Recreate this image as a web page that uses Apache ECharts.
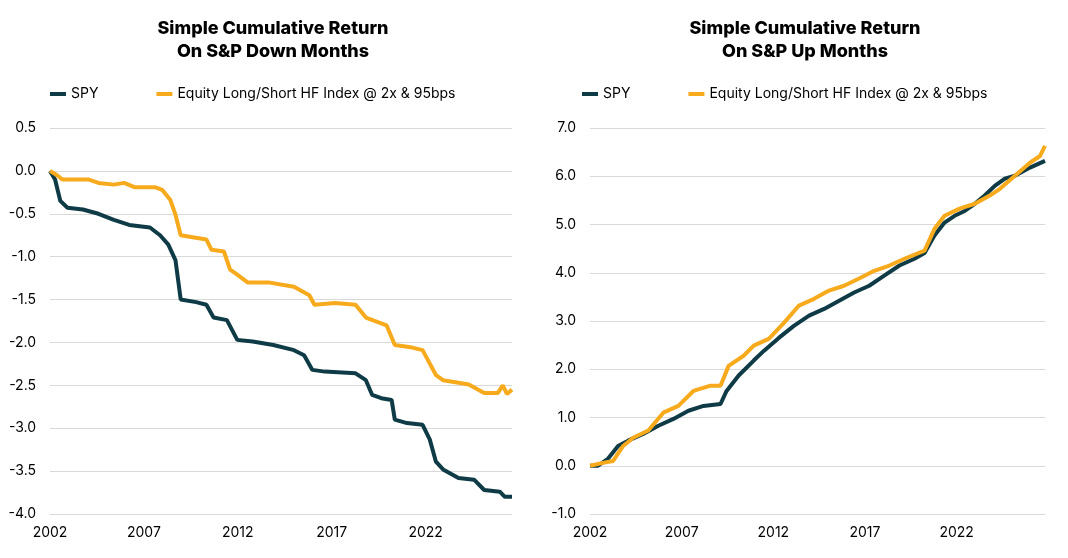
<!DOCTYPE html><html><head><meta charset="utf-8"><script src="https://cdn.jsdelivr.net/npm/echarts@6/dist/echarts.min.js"></script>
<style>html,body{margin:0;background:#fff}#c{width:1068px;height:558px}</style></head><body><div id="c"></div><script>
const downSpyX=[2002,2002.27,2002.55,2002.93,2003.75,2004.58,2005.4,2006.22,2007.32,2007.86,2008.3,2008.68,2008.96,2009.78,2010.33,2010.71,2011.42,2011.97,2012.79,2013.89,2014.99,2015.53,2015.97,2016.63,2018.27,2018.82,2019.15,2019.64,2020.19,2020.36,2021.01,2021.84,2022.22,2022.55,2022.93,2023.75,2024.58,2025.12,2025.95,2026.22,2026.6];
const downSpyY=[0,-0.1,-0.35,-0.43,-0.45,-0.5,-0.57,-0.63,-0.66,-0.75,-0.86,-1.04,-1.5,-1.53,-1.56,-1.71,-1.74,-1.97,-1.99,-2.03,-2.09,-2.15,-2.32,-2.34,-2.36,-2.44,-2.61,-2.65,-2.67,-2.9,-2.94,-2.96,-3.13,-3.39,-3.48,-3.58,-3.6,-3.72,-3.74,-3.8,-3.8];
const downHfX=[2002,2002.38,2002.66,2004.03,2004.58,2005.4,2005.95,2006.49,2007.59,2007.97,2008.41,2008.68,2008.96,2009.51,2010.33,2010.6,2011.26,2011.59,2011.97,2012.52,2013.62,2014.99,2015.81,2016.08,2017.18,2018.27,2018.82,2019.92,2020.36,2021.29,2021.84,2022.11,2022.55,2022.93,2023.75,2024.3,2025.12,2025.84,2026.11,2026.33,2026.6];
const downHfY=[0,-0.05,-0.1,-0.1,-0.14,-0.16,-0.14,-0.19,-0.19,-0.22,-0.34,-0.51,-0.75,-0.77,-0.8,-0.92,-0.94,-1.15,-1.21,-1.3,-1.3,-1.35,-1.45,-1.56,-1.54,-1.56,-1.71,-1.8,-2.03,-2.06,-2.09,-2.2,-2.38,-2.44,-2.47,-2.49,-2.59,-2.59,-2.5,-2.6,-2.55];
const upSpyX=[2002,2002.44,2002.99,2003.53,2004.08,2004.9,2005.73,2006.55,2007.37,2008.19,2009.12,2009.45,2010.11,2010.93,2011.48,2012.3,2013.12,2013.95,2014.77,2015.59,2016.41,2017.23,2018.05,2018.88,2019.7,2020.25,2020.79,2021.34,2021.89,2022.44,2022.99,2023.53,2024.08,2024.63,2025.18,2026.0,2026.82];
const upSpyY=[0,0,0.15,0.41,0.52,0.66,0.83,0.97,1.14,1.24,1.28,1.55,1.87,2.18,2.38,2.65,2.9,3.11,3.25,3.42,3.59,3.73,3.94,4.15,4.29,4.41,4.77,5.04,5.18,5.28,5.43,5.6,5.8,5.95,6.01,6.18,6.32];
const upHfX=[2002,2002.71,2003.26,2003.81,2004.36,2005.18,2006.0,2006.82,2007.64,2008.58,2009.12,2009.56,2010.38,2010.93,2011.75,2012.58,2013.4,2014.22,2015.04,2015.86,2016.68,2017.51,2018.33,2019.15,2020.25,2020.79,2021.34,2022.16,2022.99,2023.81,2024.36,2025.18,2026.0,2026.55,2026.82];
const upHfY=[0,0.06,0.1,0.41,0.58,0.73,1.1,1.24,1.55,1.66,1.66,2.07,2.28,2.49,2.63,2.96,3.32,3.46,3.63,3.73,3.88,4.04,4.15,4.29,4.46,4.91,5.18,5.33,5.43,5.6,5.74,6.01,6.28,6.42,6.63];
const yearTicks=[2002,2007,2012,2017,2022];
const names=['SPY','Equity Long/Short HF Index @ 2x & 95bps'];
const C1='#0f3b47',C2='#f6aa1c';
const zip=(a,b)=>a.map((v,i)=>[v,b[i]]);
const F='Inter, Roboto, sans-serif';
function xa(i,max){return {type:'value',gridIndex:i,min:2002,max:max,interval:5,axisLine:{show:false},axisTick:{show:false},splitLine:{show:false},axisLabel:{color:'#000',fontSize:14,fontFamily:F,margin:12,formatter:v=>yearTicks.includes(v)?String(v):''}};}
function ya(i,min,max,int){return {type:'value',gridIndex:i,min,max,interval:int,axisLine:{show:false},axisTick:{show:false},splitLine:{lineStyle:{color:'#d9d9d9'}},axisLabel:{color:'#000',fontSize:14,fontFamily:F,margin:14,formatter:v=>v.toFixed(1)}};}
function ser(name,data,i,c){return {name,type:'line',xAxisIndex:i,yAxisIndex:i,data,showSymbol:false,lineStyle:{width:4,color:c},itemStyle:{color:c}};}
function leg(x){return {data:names.map((n,k)=>({name:n,itemStyle:{color:[C1,C2][k]}})),left:x,top:82,icon:'rect',itemWidth:16,itemHeight:4,itemGap:58,textStyle:{fontSize:14,fontFamily:F,color:'#000'}};}
const ch=echarts.init(document.getElementById('c'));
ch.setOption({animation:false,
title:[{text:'Simple Cumulative Return\nOn S&P Down Months',left:268,top:12,textAlign:'center',textStyle:{fontSize:18,fontWeight:800,fontFamily:F,lineHeight:23,color:'#000'}},
{text:'Simple Cumulative Return\nOn S&P Up Months',left:800,top:12,textAlign:'center',textStyle:{fontSize:18,fontWeight:800,fontFamily:F,lineHeight:23,color:'#000'}}],
legend:[leg(45),leg(577)],
grid:[{left:50,right:556,top:128,bottom:44},{left:590,right:23,top:128,bottom:44}],
xAxis:[xa(0,2026.6),xa(1,2026.82)],
yAxis:[ya(0,-4,0.5,0.5),ya(1,-1,7,1)],
series:[ser(names[0],zip(downSpyX,downSpyY),0,C1),ser(names[1],zip(downHfX,downHfY),0,C2),ser(names[0],zip(upSpyX,upSpyY),1,C1),ser(names[1],zip(upHfX,upHfY),1,C2)]});
</script></body></html>
